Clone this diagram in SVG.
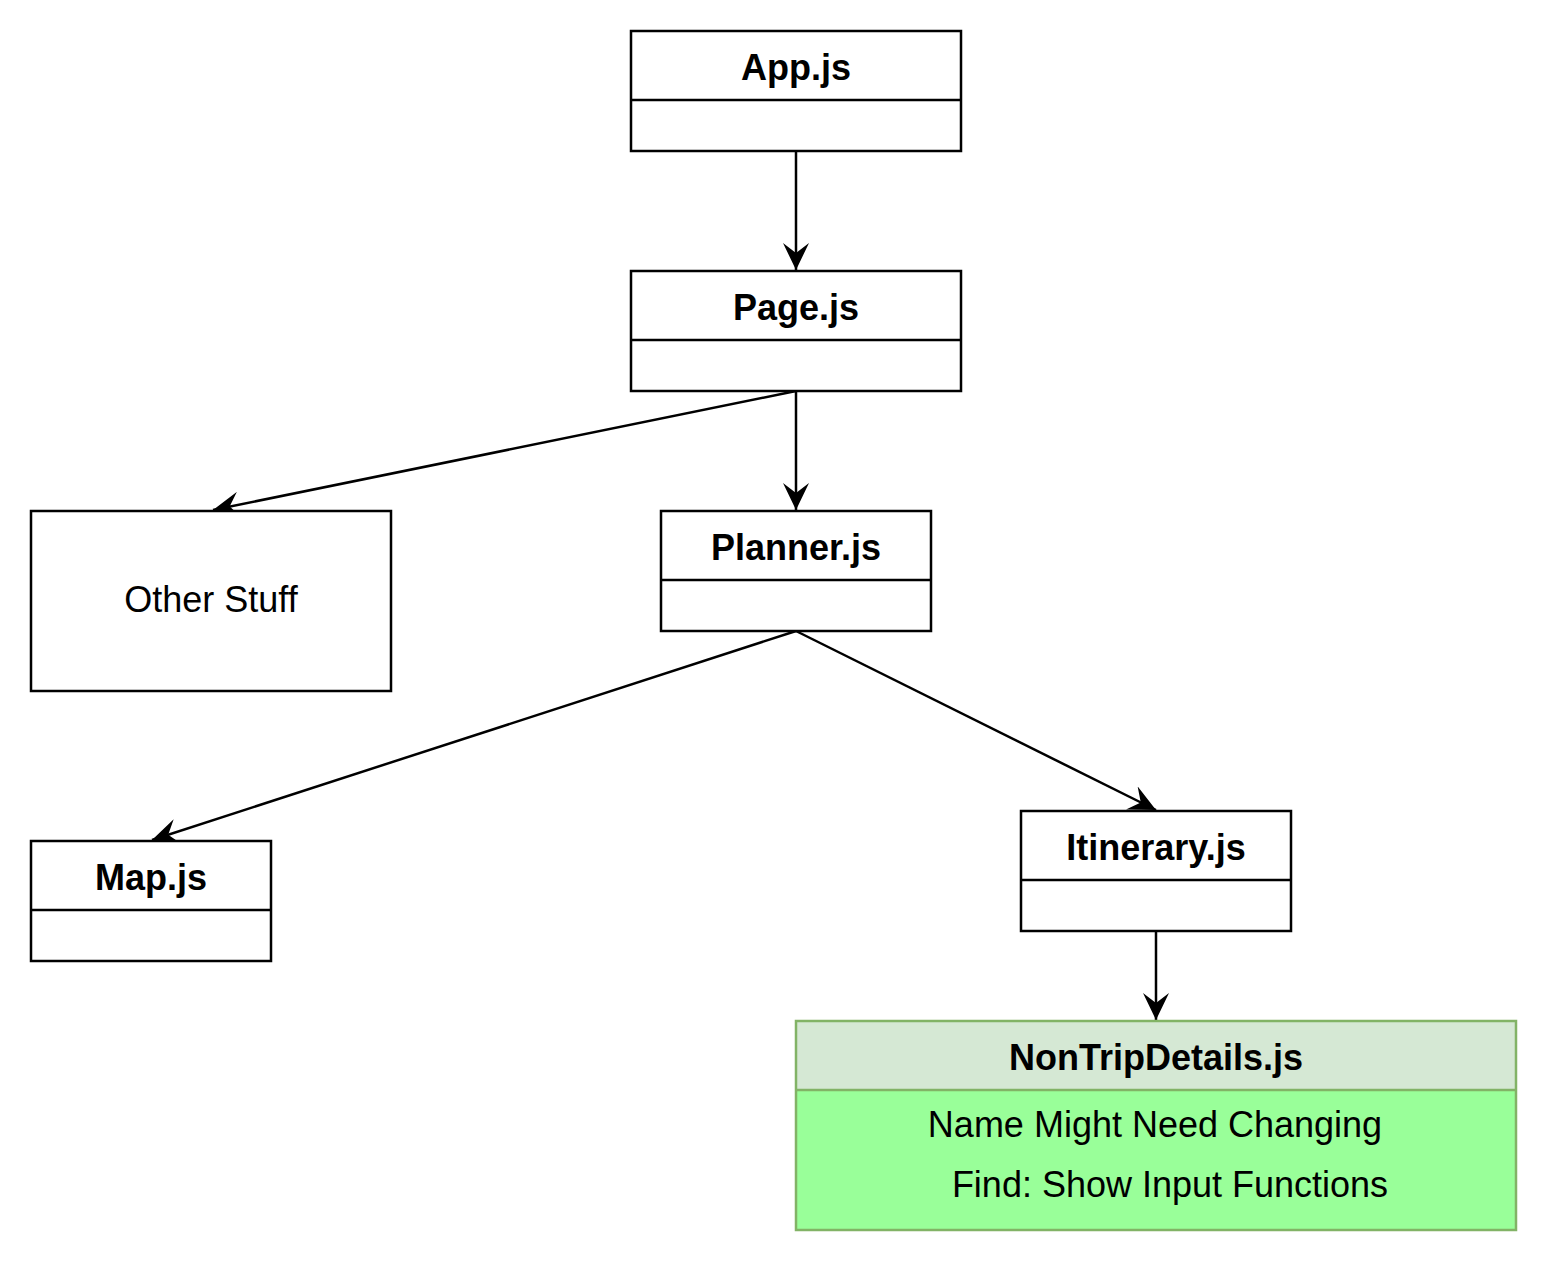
<svg xmlns="http://www.w3.org/2000/svg" width="1548" height="1263" viewBox="0 0 1548 1263">
<style>
.box{fill:#ffffff;stroke:#000000;stroke-width:2.5}
.div{stroke:#000000;stroke-width:2.5}
.t{font-family:"Liberation Sans",Arial,sans-serif;font-size:36px;fill:#000000;text-anchor:middle}
.b{font-weight:bold}
.edge{fill:none;stroke:#000000;stroke-width:2.5}
</style>
<defs>
<marker id="arr" markerUnits="userSpaceOnUse" markerWidth="28" markerHeight="26" viewBox="0 0 28 26" refX="27" refY="13" orient="auto">
<path d="M27,13 L0,0 L10,13 L0,26 Z" fill="#000000"/>
</marker>
</defs>
<rect width="1548" height="1263" fill="#ffffff"/>
<g id="connectors">
<line class="edge" x1="796" y1="151" x2="796" y2="270" marker-end="url(#arr)"/>
<line class="edge" x1="796" y1="391" x2="213" y2="510" marker-end="url(#arr)"/>
<line class="edge" x1="796" y1="391" x2="796" y2="510" marker-end="url(#arr)"/>
<line class="edge" x1="796" y1="631" x2="152" y2="840" marker-end="url(#arr)"/>
<line class="edge" x1="796" y1="631" x2="1156" y2="810" marker-end="url(#arr)"/>
<line class="edge" x1="1156" y1="931" x2="1156" y2="1020" marker-end="url(#arr)"/>
</g>
<g id="app">
<rect class="box" x="631" y="31" width="330" height="120"/>
<line class="div" x1="631" y1="100" x2="961" y2="100"/>
<text class="t b" x="796" y="80">App.js</text>
</g>
<g id="page">
<rect class="box" x="631" y="271" width="330" height="120"/>
<line class="div" x1="631" y1="340" x2="961" y2="340"/>
<text class="t b" x="796" y="320">Page.js</text>
</g>
<g id="other">
<rect class="box" x="31" y="511" width="360" height="180"/>
<text class="t" x="211" y="612">Other Stuff</text>
</g>
<g id="planner">
<rect class="box" x="661" y="511" width="270" height="120"/>
<line class="div" x1="661" y1="580" x2="931" y2="580"/>
<text class="t b" x="796" y="560">Planner.js</text>
</g>
<g id="map">
<rect class="box" x="31" y="841" width="240" height="120"/>
<line class="div" x1="31" y1="910" x2="271" y2="910"/>
<text class="t b" x="151" y="890">Map.js</text>
</g>
<g id="itinerary">
<rect class="box" x="1021" y="811" width="270" height="120"/>
<line class="div" x1="1021" y1="880" x2="1291" y2="880"/>
<text class="t b" x="1156" y="860">Itinerary.js</text>
</g>
<g id="nontrip">
<rect x="796" y="1021" width="720" height="69" fill="#d5e8d4"/>
<rect x="796" y="1090" width="720" height="140" fill="#99ff99"/>
<rect x="796" y="1021" width="720" height="209" fill="none" stroke="#82b366" stroke-width="2.5"/>
<line x1="796" y1="1090" x2="1516" y2="1090" stroke="#82b366" stroke-width="2.5"/>
<text class="t b" x="1156" y="1070">NonTripDetails.js</text>
<text class="t" x="1155" y="1137">Name Might Need Changing</text>
<text class="t" x="1170" y="1197">Find: Show Input Functions</text>
</g>
</svg>
